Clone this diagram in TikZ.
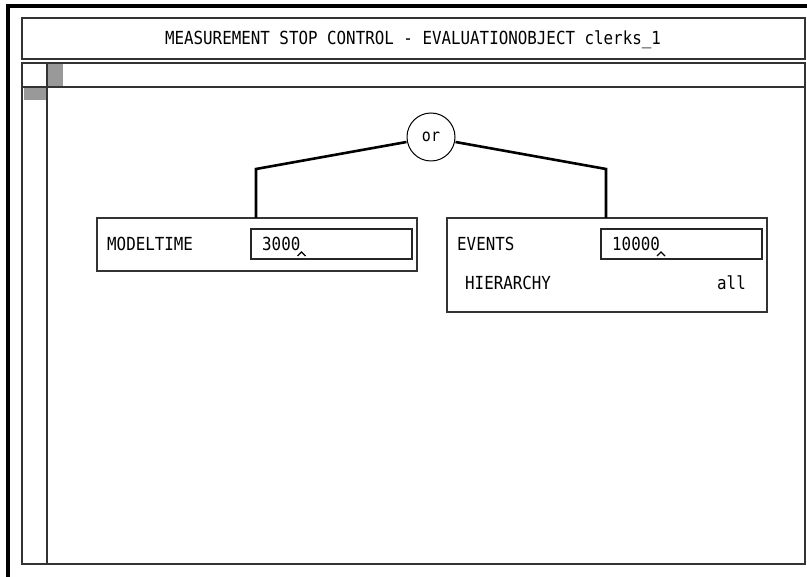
\documentclass[tikz,border=0pt]{standalone}
\usepackage{fontspec}
\newfontfamily\termfont[FakeStretch=0.88]{DejaVu Sans Mono}
\usetikzlibrary{positioning,calc}

\begin{document}
\begin{tikzpicture}[x=1pt,y=-1pt,
    frame/.style={draw=black!80,line width=1.3pt},
    entry/.style={draw=black!85,line width=1.1pt,inner sep=0pt},
    txt/.style={font=\termfont\fontsize{18}{18}\selectfont,inner sep=0pt},
    wire/.style={line width=2.6pt,line join=miter},
    marker/.style={fill=black!40,draw=none}]
    \useasboundingbox (0,0) rectangle (807,577);
    % window border
    \draw[line width=3.5pt] (8,577) -- (8,6) -- (807,6);

    % title bar
    \draw[frame] (22,18) rectangle (805,59);
    \node[txt] (title) at (413,40) {MEASUREMENT STOP CONTROL - EVALUATIONOBJECT clerks\_1};

    % work area with its ruler strips
    \draw[frame] (22,63) rectangle (805,564);
    \draw[frame] (22,87) -- (805,87);
    \draw[frame] (47,63) -- (47,564);
    \fill[marker] (48,64) rectangle (63,86);
    \fill[marker] (24,88) rectangle (46,100);

    % or node
    \node[draw,circle,line width=1pt,minimum size=48pt,inner sep=0pt,
          font=\termfont\fontsize{17}{17}\selectfont] (or) at (431,137) {or};

    % MODELTIME condition
    \draw[frame] (97,218) rectangle (417,271);
    \coordinate (mtop) at (256,218);
    \node[txt,anchor=west] (mlabel) at (107,244) {MODELTIME};
    \draw[entry] (251,229) rectangle (412,259);
    \node[txt,anchor=west] (mval) at (262,244) {3000};
    \draw[line width=1.2pt] ($(mval.south east)+(-3,5)$) -- ++(4,-4) -- ++(4,4);

    % EVENTS condition
    \draw[frame] (447,218) rectangle (767,312);
    \coordinate (etop) at (606,218);
    \node[txt,anchor=west] (elabel) at (457,244) {EVENTS};
    \draw[entry] (601,229) rectangle (762,259);
    \node[txt,anchor=west] (eval) at (612,244) {10000};
    \draw[line width=1.2pt] ($(eval.south east)+(-3,5)$) -- ++(4,-4) -- ++(4,4);
    \node[txt,anchor=west] (hlabel) at (465,283) {HIERARCHY};
    \node[txt,anchor=east] (hval) at (746,283) {all};

    % connections
    \draw[wire] (or.west |- 0,142) -- (256,169) -- (mtop);
    \draw[wire] (or.east |- 0,142) -- (606,169) -- (etop);
\end{tikzpicture}
\end{document}
